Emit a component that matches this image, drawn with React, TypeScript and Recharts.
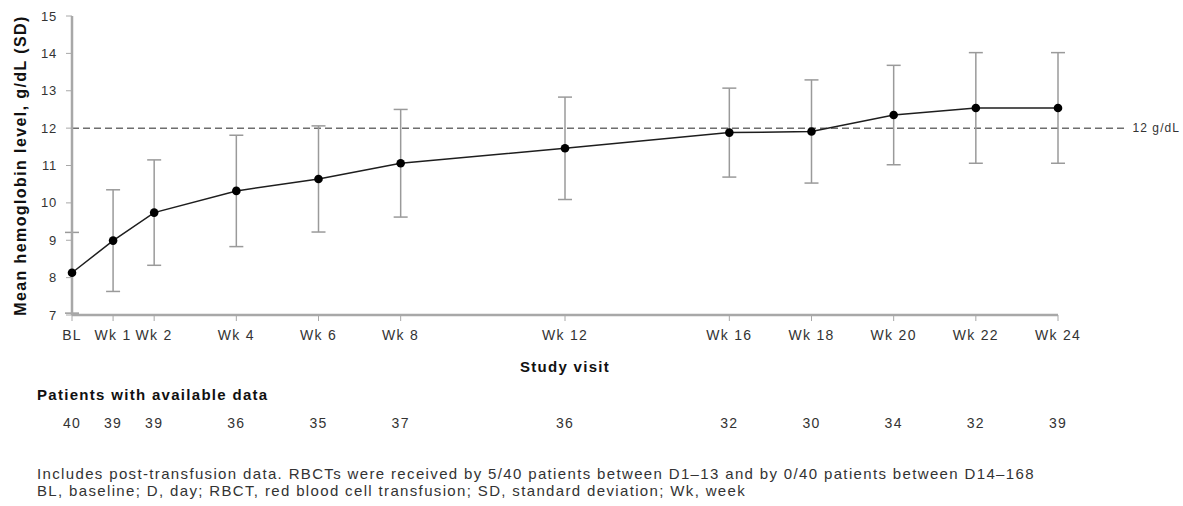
import React from 'react';
import { LineChart, Line, XAxis, YAxis, ErrorBar, ReferenceLine } from 'recharts';

// ---- data ----
const weeks = [0, 1, 2, 4, 6, 8, 12, 16, 18, 20, 22, 24];
const visitLabels = ['BL', 'Wk 1', 'Wk 2', 'Wk 4', 'Wk 6', 'Wk 8', 'Wk 12', 'Wk 16', 'Wk 18', 'Wk 20', 'Wk 22', 'Wk 24'];
const meanHb = [8.13, 8.99, 9.74, 10.32, 10.64, 11.06, 11.46, 11.88, 11.91, 12.35, 12.54, 12.54];
const sdHb = [1.08, 1.36, 1.41, 1.49, 1.42, 1.44, 1.37, 1.19, 1.38, 1.33, 1.48, 1.48];
const patientsN = [40, 39, 39, 36, 35, 37, 36, 32, 30, 34, 32, 39];
const yTicks = [7, 8, 9, 10, 11, 12, 13, 14, 15];
const threshold = 12;
const thresholdLabel = '12 g/dL';
const yTitle = 'Mean hemoglobin level, g/dL (SD)';
const xTitle = 'Study visit';
const patientsTitle = 'Patients with available data';
const footnotes = [
  'Includes post-transfusion data. RBCTs were received by 5/40 patients between D1\u201313 and by 0/40 patients between D14\u2013168',
  'BL, baseline; D, day; RBCT, red blood cell transfusion; SD, standard deviation; Wk, week',
];

const data = weeks.map((w, i) => ({ week: w, mean: meanHb[i], sd: sdHb[i] }));

const FONT = '"Liberation Sans", Arial, Helvetica, sans-serif';

const VisitTick = (props: any) => {
  const { x, y, payload } = props;
  const i = weeks.indexOf(payload.value);
  return (
    <g>
      <text x={x} y={y} dy="0.71em" textAnchor="middle" fontSize={14} fill="#333" fontFamily={FONT} style={{ letterSpacing: '1.3px' }}>
        {visitLabels[i]}
      </text>
      <text x={x} y={y + 88} dy="0.71em" textAnchor="middle" fontSize={14} fill="#333" fontFamily={FONT} style={{ letterSpacing: '1.3px' }}>
        {patientsN[i]}
      </text>
    </g>
  );
};

const HbTick = (props: any) => {
  const { x, y, payload } = props;
  return (
    <text x={x} y={y} dy="0.355em" textAnchor="end" fontSize={13} fill="#333" fontFamily={FONT} style={{ letterSpacing: '0.8px' }}>
      {payload.value}
    </text>
  );
};

export default function App() {
  return (
    <div style={{ position: 'absolute', left: 0, top: 0, width: 1183, height: 506, background: '#fff', fontFamily: FONT }}>
      <LineChart width={1183} height={506} data={data} margin={{ top: 16, right: 125, bottom: 0, left: 0 }}>
        <XAxis
          type="number"
          dataKey="week"
          domain={[0, 24]}
          ticks={weeks}
          interval={0}
          height={191}
          tickSize={6}
          tickMargin={9}
          tick={<VisitTick />}
          axisLine={{ stroke: '#a8a8a8', strokeWidth: 2.5 }}
          tickLine={{ stroke: '#a8a8a8', strokeWidth: 1 }}
          label={{
            value: xTitle,
            position: 'insideTop',
            offset: 46,
            style: { fontWeight: 'bold', fontSize: 15, fill: '#111', letterSpacing: '1.3px', fontFamily: FONT },
          }}
        />
        <YAxis
          type="number"
          domain={[7, 15]}
          ticks={yTicks}
          interval={0}
          width={72}
          tickSize={6}
          tickMargin={9}
          tick={<HbTick />}
          axisLine={{ stroke: '#a8a8a8', strokeWidth: 2.5 }}
          tickLine={{ stroke: '#a8a8a8', strokeWidth: 1 }}
          label={{
            value: yTitle,
            angle: -90,
            position: 'insideLeft',
            offset: 20,
            style: { textAnchor: 'middle', fontWeight: 'bold', fontSize: 16, fill: '#111', letterSpacing: '1.4px', fontFamily: FONT },
          }}
        />
        <ReferenceLine
          segment={[{ x: 0, y: threshold }, { x: 25.64, y: threshold }]}
          ifOverflow="visible"
          stroke="#6e6e6e"
          strokeWidth={1.5}
          strokeDasharray="7 4"
          label={{
            value: thresholdLabel,
            position: 'right',
            offset: 7,
            fill: '#333',
            fontSize: 12,
            style: { letterSpacing: '1.1px', fontFamily: FONT },
          }}
        />
        <Line
          type="linear"
          dataKey="mean"
          stroke="#1e1e1e"
          strokeWidth={1.5}
          dot={{ r: 4.3, fill: '#000', stroke: '#000', strokeWidth: 0 }}
          activeDot={false}
          isAnimationActive={false}
        >
          <ErrorBar dataKey="sd" direction="y" width={7} stroke="#9a9a9a" strokeWidth={1.5} isAnimationActive={false} />
        </Line>
      </LineChart>
      <svg width={1183} height={506} style={{ position: 'absolute', left: 0, top: 0, pointerEvents: 'none' }}>
        <text x={37} y={399.5} fontSize={15} fontWeight="bold" fill="#111" fontFamily={FONT} style={{ letterSpacing: '1.3px' }}>
          {patientsTitle}
        </text>
        {footnotes.map((t, i) => (
          <text key={i} x={37} y={479 + i * 17} fontSize={15} fill="#333" fontFamily={FONT} style={{ letterSpacing: '1.35px' }}>
            {t}
          </text>
        ))}
      </svg>
    </div>
  );
}
